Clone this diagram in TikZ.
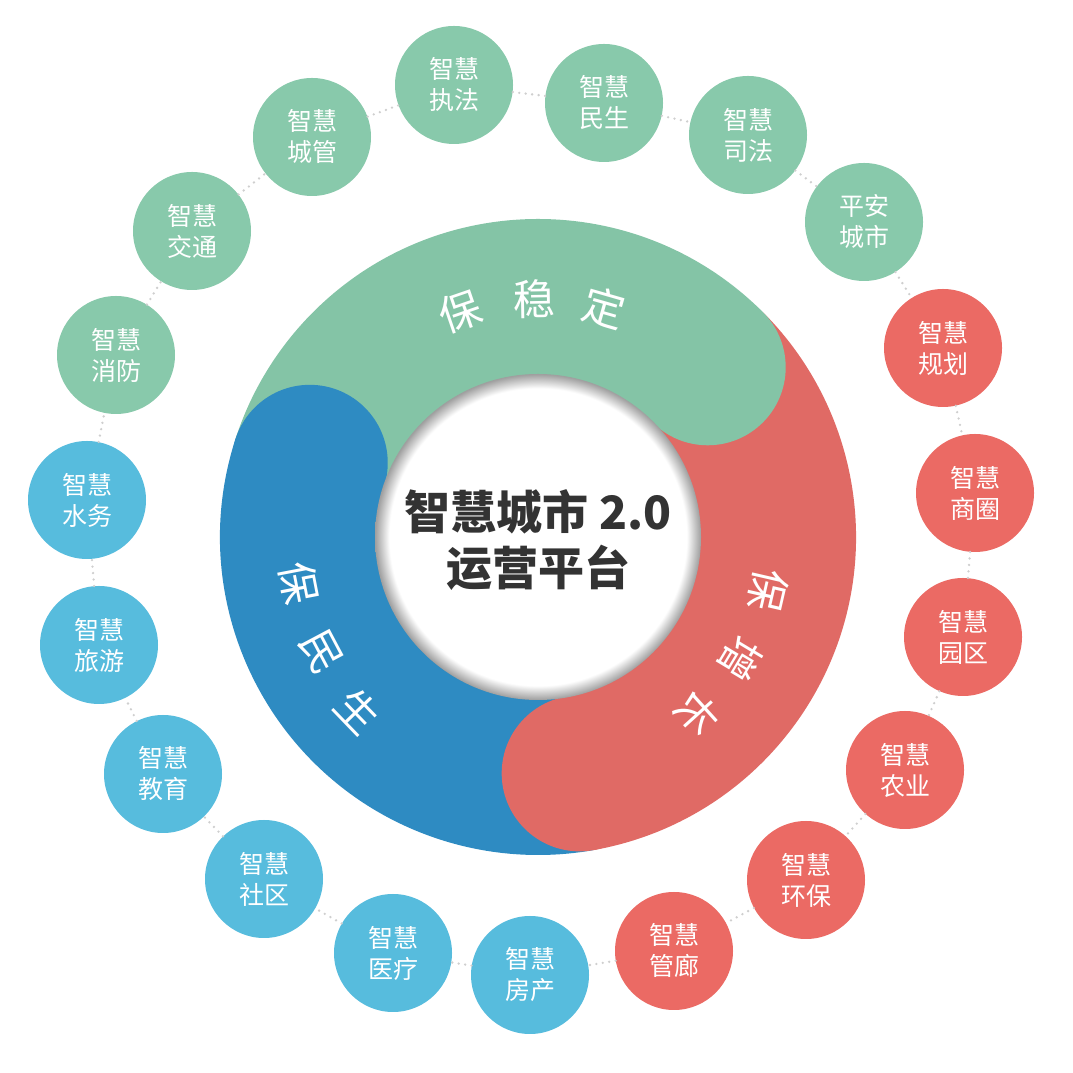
\documentclass[tikz,border=0pt]{standalone}
\usepackage{fontspec}
\setmainfont{Noto Sans CJK SC}
\definecolor{ringG}{HTML}{84C4A6}
\definecolor{ringR}{HTML}{E06A65}
\definecolor{ringB}{HTML}{2E8BC2}
\definecolor{smG}{HTML}{88C9AB}
\definecolor{smR}{HTML}{EB6A64}
\definecolor{smB}{HTML}{57BCDD}
\definecolor{dotgray}{HTML}{CFCFCF}
\definecolor{titlegray}{HTML}{333333}
\pgfdeclareradialshading{holeshade}{\pgfpoint{0bp}{0bp}}{color(0bp)=(white); color(22.8bp)=(white); color(25bp)=(black!38); color(50bp)=(black!38)}
\tikzset{
  sc/.style={circle, minimum size=118pt, inner sep=0pt, text=white, align=center,
    font=\fontsize{25}{31}\selectfont},
  scG/.style={sc, fill=smG},
  scR/.style={sc, fill=smR},
  scB/.style={sc, fill=smB},
  dotline/.style={draw=dotgray, line width=2.6pt, line cap=round, dash pattern=on 0pt off 6.5pt},
  seglabel/.style={text=white, inner sep=0pt, font=\fontsize{42}{42}\selectfont}
}
\begin{document}
\begin{tikzpicture}[x=1pt,y=1pt]
\useasboundingbox (0,0) rectangle (1073,1073);
\fill[white] (0,0) rectangle (1073,1073);

% small circles
\node[scG] (c1)  at (454,988) {智慧\\执法};
\node[scG] (c2)  at (604,970) {智慧\\民生};
\node[scG] (c3)  at (748,938) {智慧\\司法};
\node[scG] (c4)  at (864,851) {平安\\城市};
\node[scR] (c5)  at (943,725) {智慧\\规划};
\node[scR] (c6)  at (975,580) {智慧\\商圈};
\node[scR] (c7)  at (963,436) {智慧\\园区};
\node[scR] (c8)  at (905,303) {智慧\\农业};
\node[scR] (c9)  at (806,193) {智慧\\环保};
\node[scR] (c10) at (674,122) {智慧\\管廊};
\node[scB] (c11) at (530,98)  {智慧\\房产};
\node[scB] (c12) at (393,120) {智慧\\医疗};
\node[scB] (c13) at (264,194) {智慧\\社区};
\node[scB] (c14) at (163,299) {智慧\\教育};
\node[scB] (c15) at (99,428)  {智慧\\旅游};
\node[scB] (c16) at (87,573)  {智慧\\水务};
\node[scG] (c17) at (116,718) {智慧\\消防};
\node[scG] (c18) at (192,842) {智慧\\交通};
\node[scG] (c19) at (312,936) {智慧\\城管};

\foreach \a/\b in {c1/c2,c2/c3,c3/c4,c4/c5,c5/c6,c6/c7,c7/c8,c8/c9,c9/c10,c10/c11,
  c11/c12,c12/c13,c13/c14,c14/c15,c15/c16,c16/c17,c17/c18,c18/c19,c19/c1}
  \draw[dotline] (\a) -- (\b);

% main ring
\begin{scope}[shift={(538,536)}]
  \fill[ringG] (45:318) arc[start angle=45, end angle=162, radius=318]
    -- (162:162) arc[start angle=162, end angle=45, radius=162] -- cycle;
  \fill[ringB] (162:318) arc[start angle=162, end angle=280, radius=318]
    -- (280:162) arc[start angle=280, end angle=162, radius=162] -- cycle;
  \fill[ringR] (280:318) arc[start angle=280, end angle=405, radius=318]
    -- (405:162) arc[start angle=405, end angle=280, radius=162] -- cycle;
  \fill[ringG] (45:240) circle[radius=78];
  \fill[ringB] (162:240) circle[radius=78];
  \fill[ringR] (280:240) circle[radius=78];
  \shade[shading=holeshade] (0,0) circle[radius=163];

  \node[seglabel, rotate=19]  (g1) at (109:238) {保};
  \node[seglabel, rotate=1]   (g2) at (91:238)  {稳};
  \node[seglabel, rotate=-16] (g3) at (74:238)  {定};

  \node[seglabel, rotate=-79] (b1) at (191:243) {保};
  \node[seglabel, rotate=-62] (b2) at (208:245) {民};
  \node[seglabel, rotate=-46] (b3) at (224:250) {生};

  \node[seglabel, rotate=-103] (r1) at (-13:236) {保};
  \node[seglabel, rotate=-121] (r2) at (-31:236) {增};
  \node[seglabel, rotate=-138] (r3) at (-48:238) {长};

  \node[align=center, text=titlegray, font=\fontsize{46}{56}\selectfont\bfseries] (title) at (0,-3)
    {智慧城市 2.0\\运营平台};
\end{scope}
\end{tikzpicture}
\end{document}
